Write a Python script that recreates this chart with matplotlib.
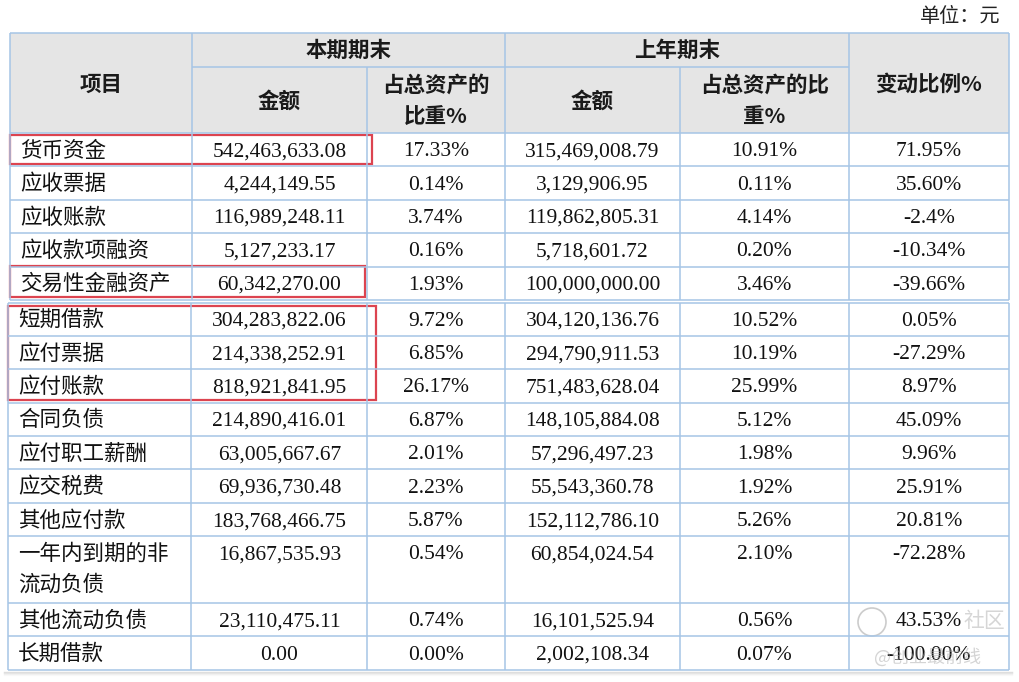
import matplotlib
matplotlib.use("Agg")
import matplotlib.pyplot as plt
from matplotlib.patches import Rectangle

# table data
items = ["货币资金", "应收票据", "应收账款", "应收款项融资", "交易性金融资产",
         "短期借款", "应付票据", "应付账款", "合同负债", "应付职工薪酬",
         "应交税费", "其他应付款", "一年内到期的非\n流动负债", "其他流动负债", "长期借款"]
cur_amount = ["542,463,633.08", "4,244,149.55", "116,989,248.11", "5,127,233.17",
              "60,342,270.00", "304,283,822.06", "214,338,252.91", "818,921,841.95",
              "214,890,416.01", "63,005,667.67", "69,936,730.48", "183,768,466.75",
              "16,867,535.93", "23,110,475.11", "0.00"]
cur_pct = ["17.33%", "0.14%", "3.74%", "0.16%", "1.93%", "9.72%", "6.85%", "26.17%",
           "6.87%", "2.01%", "2.23%", "5.87%", "0.54%", "0.74%", "0.00%"]
prev_amount = ["315,469,008.79", "3,129,906.95", "119,862,805.31", "5,718,601.72",
               "100,000,000.00", "304,120,136.76", "294,790,911.53", "751,483,628.04",
               "148,105,884.08", "57,296,497.23", "55,543,360.78", "152,112,786.10",
               "60,854,024.54", "16,101,525.94", "2,002,108.34"]
prev_pct = ["10.91%", "0.11%", "4.14%", "0.20%", "3.46%", "10.52%", "10.19%", "25.99%",
            "5.12%", "1.98%", "1.92%", "5.26%", "2.10%", "0.56%", "0.07%"]
change = ["71.95%", "35.60%", "-2.4%", "-10.34%", "-39.66%", "0.05%", "-27.29%", "8.97%",
          "45.09%", "9.96%", "25.91%", "20.81%", "-72.28%", "43.53%", "-100.00%"]
row_units = [1, 1, 1, 1, 1, 1, 1, 1, 1, 1, 1, 1, 2, 1, 1]
unit_label = "单位：元"

CJK = ["Noto Sans CJK SC", "DejaVu Sans"]
NUM = ["Liberation Serif", "DejaVu Serif"]
GRID = "#a6c5e6"
RED = "#dc4450"

fig = plt.figure(figsize=(10.19, 6.82), dpi=100)
ax = fig.add_axes([0, 0, 1, 1])
ax.set_xlim(0, 1019)
ax.set_ylim(682, 0)
ax.axis("off")

cols = [10, 192, 367, 505, 680, 849, 1009]
centers = [(cols[i] + cols[i + 1]) / 2 for i in range(len(cols) - 1)]
top, mid, hdr_bot = 33, 67, 133
rh = 33.4

# header
ax.add_patch(Rectangle((cols[0], top), cols[-1] - cols[0], hdr_bot - top,
                       facecolor="#e5e5e5", edgecolor="none"))
hk = dict(family=CJK, fontsize=15.5, ha="center", va="center", color="#1a1a1a",
          fontweight="bold")
ax.text(centers[0], 84, "项目", **hk)
ax.text((cols[1] + cols[3]) / 2, 50, "本期期末", **hk)
ax.text((cols[3] + cols[5]) / 2, 50, "上年期末", **hk)
ax.text(centers[1], 101, "金额", **hk)
ax.text(centers[3], 101, "金额", **hk)
ax.text(centers[2], 85, "占总资产的", **hk)
ax.text(centers[2], 117, "比重%", **hk)
ax.text(centers[4], 85, "占总资产的比", **hk)
ax.text(centers[4], 117, "重%", **hk)
ax.text(centers[5], 84, "变动比例%", **hk)
ax.text(1000, 17, unit_label, family=CJK, fontsize=14.5, ha="right", va="center",
        color="#222222")

def hline(yy, x0, x1):
    ax.plot([x0, x1], [yy, yy], color=GRID, lw=1.1, solid_capstyle="butt")

def vline(xx, y0, y1):
    ax.plot([xx, xx], [y0, y1], color=GRID, lw=1.1, solid_capstyle="butt")

# header lines
hline(top, cols[0], cols[-1])
hline(mid, cols[1], cols[5])
hline(hdr_bot, cols[0], cols[-1])
for xx in [cols[0], cols[1], cols[3], cols[5], cols[-1]]:
    vline(xx, top, 300)
vline(cols[2], mid, 300)
vline(cols[4], mid, 300)

# lower block verticals (the screenshot is two pieces stitched together)
low_cols = [8, 191] + cols[2:]
for xx in low_cols:
    vline(xx, 302.5, 670)

# body
y = hdr_bot
for i in range(len(items)):
    if i == 5:
        y = 302.5
    h = row_units[i] * rh
    left = 10 if i < 5 else 8
    hline(y + h, left, cols[-1])
    if i == 5:
        hline(y, left, cols[-1])
    cy = y + rh / 2 + 1
    lines = items[i].split("\n")
    for k, s in enumerate(lines):
        ax.text(left + 10, cy + 31 * k, s, family=CJK, fontsize=15.5, ha="left",
                va="center", color="#111111")
    for j, vals in enumerate([cur_amount, cur_pct, prev_amount, prev_pct, change]):
        ax.text(centers[j + 1], cy + 1, vals[i], family=NUM, fontsize=15.5,
                ha="center", va="center", color="#111111")
    y += h

# red highlight boxes
for (x0, y0, x1, y1) in [(10, 135, 372, 164), (10, 266, 365, 297), (8, 306, 376, 400)]:
    ax.add_patch(Rectangle((x0, y0), x1 - x0, y1 - y0, fill=False,
                           edgecolor=RED, lw=1.6))

# soft shadow along the bottom edge
for k, a in enumerate([0.25, 0.15, 0.08, 0.04]):
    ax.plot([4, 1012], [672 + k, 672 + k], color="#888888", lw=1, alpha=a)

# watermark
ax.add_patch(plt.Circle((872, 622), 14, fill=False, edgecolor="#cccccc", lw=1.2))
ax.text(963, 621, "社区", family=CJK, fontsize=15, ha="left", va="center",
        color="#bbbbbb", alpha=0.6)
ax.text(928, 657, "@创业最前线", family=CJK, fontsize=13, ha="center", va="center",
        color="#aaaaaa", alpha=0.5)

fig.savefig("out.png", dpi=100, facecolor="white")
